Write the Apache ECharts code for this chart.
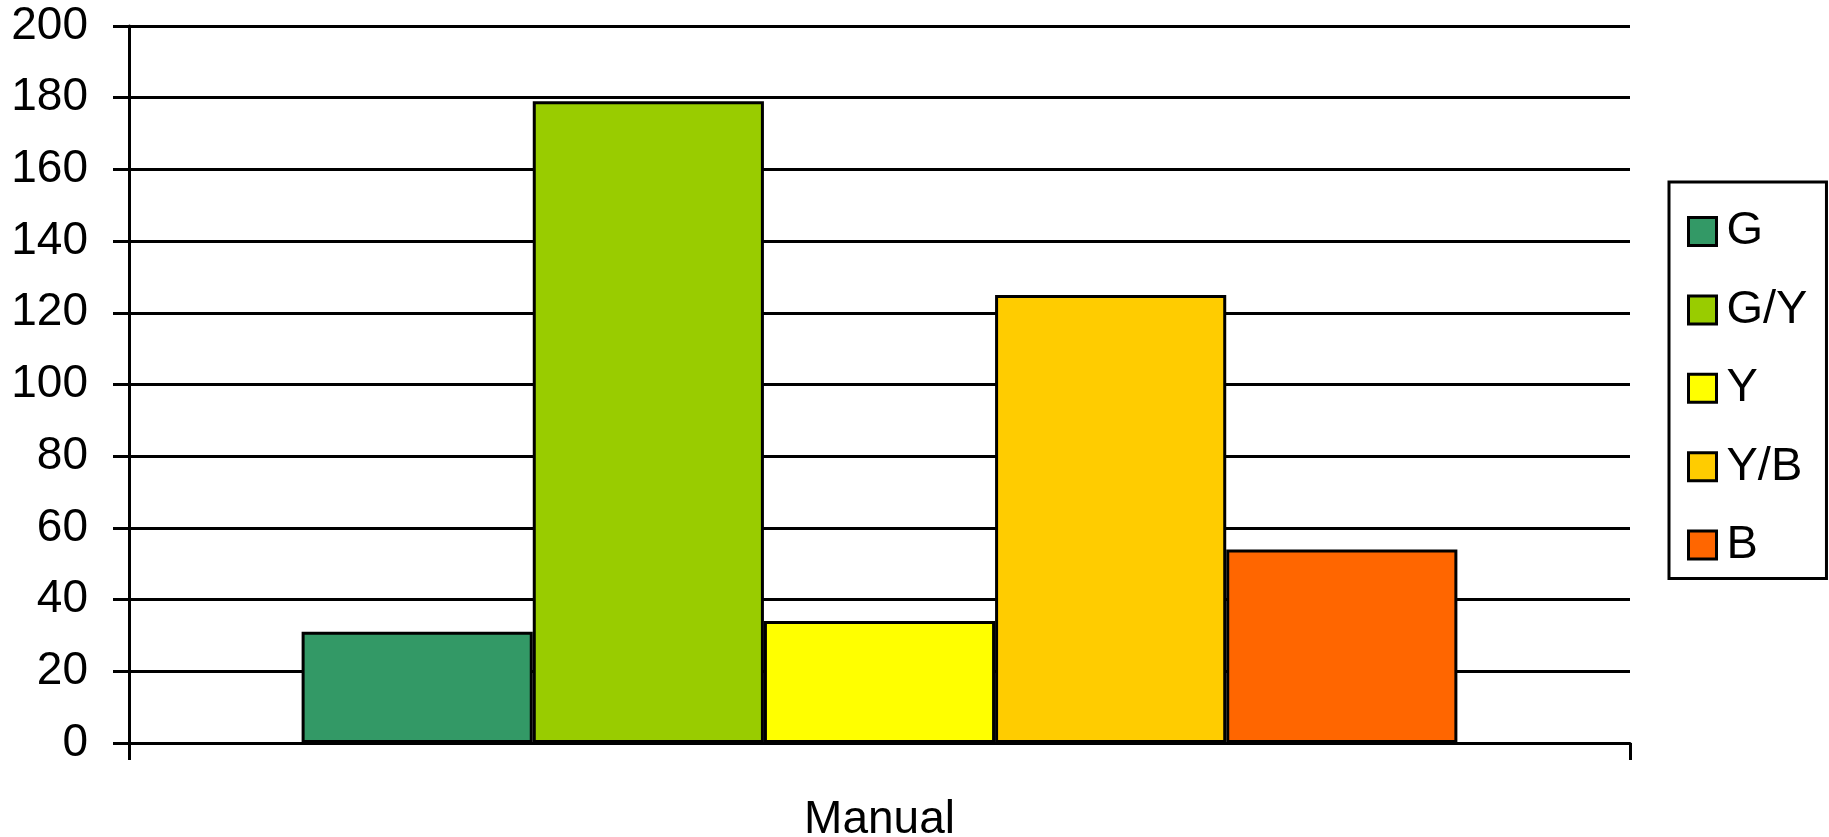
<!DOCTYPE html>
<html>
<head>
<meta charset="utf-8">
<title>Manual</title>
<script src="https://cdn.jsdelivr.net/npm/echarts@6/dist/echarts.min.js"></script>
<style>
  html, body { margin: 0; padding: 0; background: #ffffff; }
  #chart { width: 1829px; height: 837px; }
</style>
</head>
<body>
<div id="chart"></div>
<script>
// Category and per-class counts
var categories = ['Manual'];
var seriesNames = ['G', 'G/Y', 'Y', 'Y/B', 'B'];
var seriesColors = ['#339966', '#99CC00', '#FFFF00', '#FFCC00', '#FF6600'];
var valuesG = [31];
var valuesGY = [179];
var valuesY = [34];
var valuesYB = [125];
var valuesB = [54];
var yTicks = [0, 20, 40, 60, 80, 100, 120, 140, 160, 180, 200];

var seriesValues = [valuesG, valuesGY, valuesY, valuesYB, valuesB];
var font = 'Liberation Sans, Arial, sans-serif';

var chart = echarts.init(document.getElementById('chart'), null, { renderer: 'canvas' });

var series = seriesNames.map(function (name, i) {
  return {
    name: name,
    type: 'bar',
    data: seriesValues[i],
    barGap: '0%',
    barCategoryGap: '23%',
    itemStyle: { color: seriesColors[i], borderColor: '#000000', borderWidth: 3 },
    emphasis: { disabled: true },
    animation: false
  };
});

chart.setOption({
  animation: false,
  backgroundColor: '#ffffff',
  grid: { left: 129, right: 199, top: 26, bottom: 94, containLabel: false, outerBoundsMode: 'none' },
  legend: {
    orient: 'vertical',
    left: 1669,
    top: 182,
    padding: [26, 19, 10, 18],
    itemGap: 31.4,
    itemWidth: 28,
    itemHeight: 28,
    borderColor: '#000000',
    borderWidth: 3,
    backgroundColor: '#ffffff',
    icon: 'rect',
    itemStyle: { borderColor: '#000000', borderWidth: 3 },
    textStyle: { fontFamily: font, fontSize: 47, color: '#000000', lineHeight: 44, padding: [0, 0, 0, 5] },
    data: seriesNames,
    selectedMode: false
  },
  xAxis: {
    type: 'category',
    data: categories,
    boundaryGap: true,
    axisLine: { show: true, lineStyle: { color: '#000000', width: 3 } },
    axisTick: { show: true, length: 17, alignWithLabel: false, lineStyle: { color: '#000000', width: 3 } },
    axisLabel: { fontFamily: font, fontSize: 46, color: '#000000', margin: 54 },
    splitLine: { show: false }
  },
  yAxis: {
    type: 'value',
    min: yTicks[0],
    max: yTicks[yTicks.length - 1],
    interval: yTicks[1] - yTicks[0],
    axisLine: { show: true, lineStyle: { color: '#000000', width: 3 } },
    axisTick: { show: true, length: 16, lineStyle: { color: '#000000', width: 3 } },
    axisLabel: { fontFamily: font, fontSize: 46, color: '#000000', margin: 41 },
    splitLine: { show: true, lineStyle: { color: '#000000', width: 3 } }
  },
  series: series
});
</script>
</body>
</html>
